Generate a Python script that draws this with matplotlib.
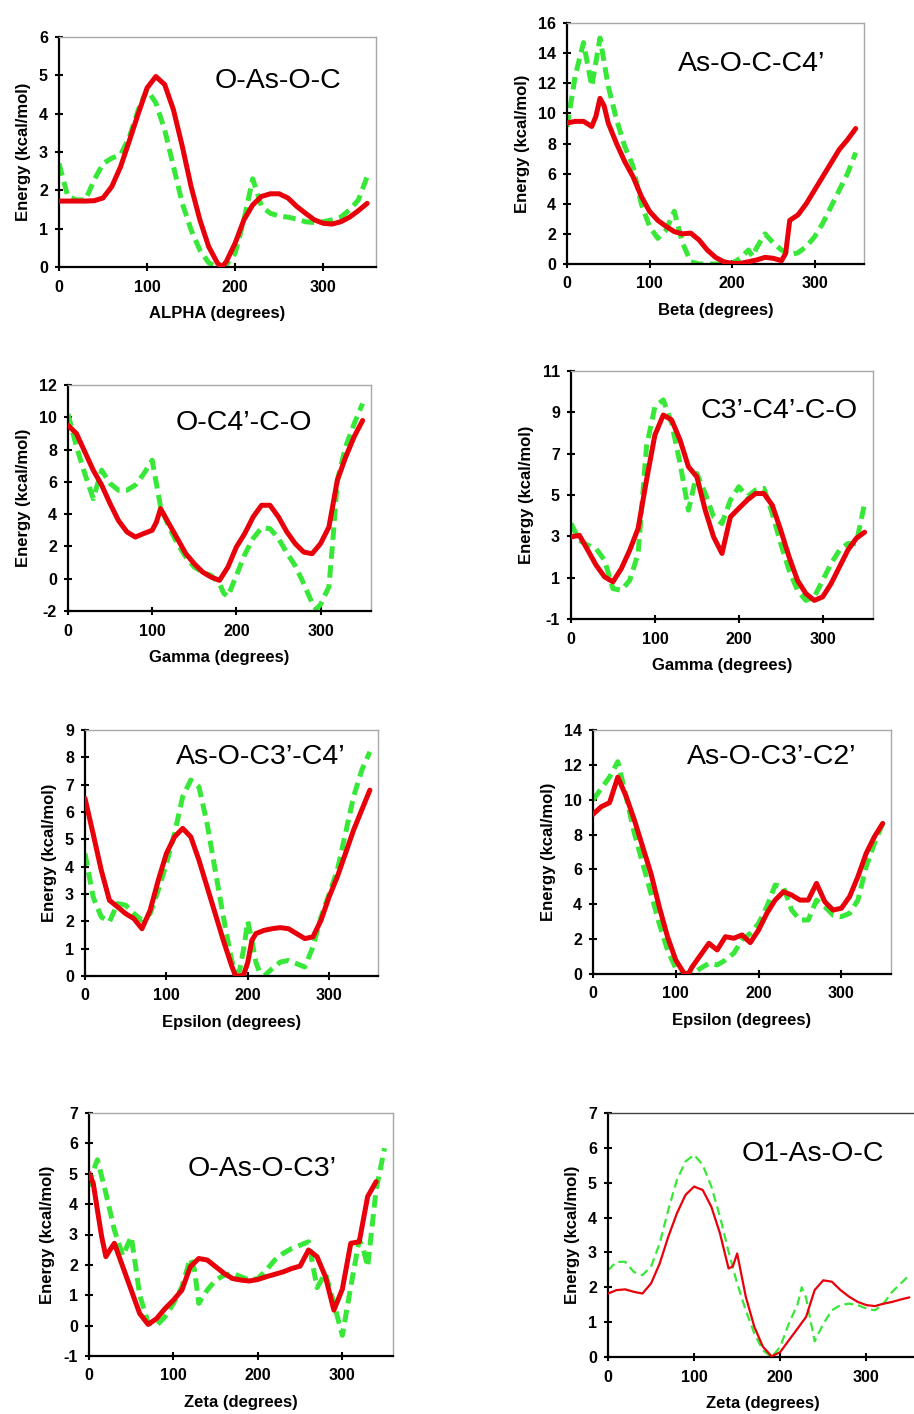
import matplotlib
matplotlib.use('Agg')
import matplotlib.pyplot as plt

plt.rcParams['font.family'] = ['Liberation Sans', 'DejaVu Sans']
plt.rcParams['axes.unicode_minus'] = False

# ---- data (energy in kcal/mol vs torsion angle in degrees) ----
# panel 1: O-As-O-C
alpha_red_x = [0, 10, 20, 30, 40, 50, 60, 70, 80, 90, 100, 110, 120, 130, 140, 150, 160, 170, 180, 185,
               190, 200, 210, 220, 230, 240, 250, 260, 270, 280, 290, 300, 310, 320, 330, 340, 350]
alpha_red_y = [1.72, 1.72, 1.72, 1.72, 1.73, 1.8, 2.1, 2.62, 3.3, 4.0, 4.67, 4.97, 4.76, 4.1, 3.15, 2.1, 1.23, 0.53, 0.1, 0.0,
               0.14, 0.62, 1.23, 1.62, 1.84, 1.91, 1.91, 1.8, 1.58, 1.4, 1.23, 1.14, 1.12, 1.18, 1.3, 1.47, 1.66]
alpha_grn_x = [0, 10, 20, 30, 40, 50, 60, 70, 80, 90, 100, 110, 120, 130, 140, 150, 160, 170, 180,
               190, 200, 210, 220, 230, 240, 250, 260, 270, 280, 290, 300, 310, 320, 330, 340, 350]
alpha_grn_y = [2.7, 1.84, 1.75, 1.75, 2.27, 2.7, 2.84, 2.93, 3.4, 4.1, 4.63, 4.28, 3.58, 2.62, 1.66, 0.97, 0.44, 0.11, 0.0,
               0.05, 0.36, 1.23, 2.3, 1.58, 1.4, 1.33, 1.3, 1.25, 1.18, 1.16, 1.18, 1.23, 1.3, 1.49, 1.75, 2.36]

# panel 2: As-O-C-C4'
beta_red_x = [0, 10, 20, 30, 35, 40, 45, 50, 60, 70, 80, 90, 100, 110, 120, 130, 140, 150, 160, 170, 180,
              190, 200, 210, 220, 230, 240, 250, 260, 265, 270, 280, 290, 300, 310, 320, 330, 340, 350]
beta_red_y = [9.36, 9.47, 9.47, 9.13, 9.8, 11.0, 10.5, 9.36, 8.0, 6.8, 5.8, 4.5, 3.5, 2.9, 2.5, 2.15, 2.0, 2.05, 1.6, 0.93, 0.44,
              0.15, 0.04, 0.04, 0.15, 0.27, 0.44, 0.38, 0.22, 0.7, 2.9, 3.26, 4.0, 4.9, 5.8, 6.7, 7.6, 8.25, 9.0]
beta_grn_x = [0, 10, 20, 30, 40, 50, 60, 70, 80, 90, 100, 110, 120, 130, 140, 150, 160, 170, 180,
              190, 200, 210, 220, 225, 230, 240, 250, 260, 270, 280, 290, 300, 310, 320, 330, 340, 350]
beta_grn_y = [9.1, 12.5, 14.7, 11.8, 15.0, 11.8, 9.6, 7.8, 6.5, 4.0, 2.5, 1.7, 2.25, 3.5, 1.4, 0.15, 0.0, 0.0, 0.0,
              0.0, 0.04, 0.38, 0.93, 0.5, 1.1, 2.0, 1.4, 0.93, 0.6, 0.75, 1.15, 1.8, 2.7, 3.8, 4.9, 6.0, 7.4]

# panel 3: O-C4'-C-O
gam1_red_x = [0, 10, 20, 30, 40, 50, 60, 70, 80, 90, 100, 105, 110, 120, 130, 140, 150, 160, 170, 180,
              190, 200, 210, 220, 230, 240, 250, 260, 270, 280, 290, 300, 310, 315, 320, 330, 340, 350]
gam1_red_y = [9.5, 9.0, 7.86, 6.72, 5.8, 4.65, 3.6, 2.9, 2.58, 2.8, 3.0, 3.5, 4.34, 3.4, 2.48, 1.55, 0.93, 0.41, 0.1, -0.1,
              0.72, 1.96, 2.8, 3.83, 4.55, 4.55, 3.83, 2.9, 2.17, 1.65, 1.55, 2.17, 3.2, 4.65, 6.1, 7.55, 8.8, 9.8]
gam1_grn_x = [0, 10, 20, 30, 40, 50, 60, 70, 80, 90, 100, 110, 120, 130, 140, 150, 160, 170, 180, 185,
              190, 200, 210, 220, 230, 240, 250, 260, 270, 280, 290, 295, 300, 310, 315, 320, 330, 340, 350]
gam1_grn_y = [10.2, 8.2, 6.5, 4.96, 6.72, 5.9, 5.48, 5.48, 5.8, 6.5, 7.34, 4.45, 3.2, 2.17, 1.34, 0.72, 0.41, 0.2, -0.3, -0.9,
              -1.1, 0.2, 1.5, 2.5, 3.15, 3.1, 2.5, 1.6, 0.8, -0.3, -1.5, -1.9, -1.6, -0.5, 2.58, 6.1, 8.2, 9.6, 10.85]

# panel 4: C3'-C4'-C-O
gam2_x = [0, 10, 20, 30, 40, 50, 60, 70, 80, 90, 100, 110, 120, 130, 140, 150, 160, 170, 180,
          190, 200, 210, 220, 230, 240, 250, 260, 270, 280, 290, 300, 310, 320, 330, 340, 350]
gam2_red_y = [2.97, 3.05, 2.33, 1.6, 1.04, 0.8, 1.44, 2.33, 3.38, 5.72, 7.9, 8.87, 8.63, 7.66, 6.37, 5.88, 4.27, 2.97, 2.17,
              3.94, 4.35, 4.75, 5.07, 5.07, 4.5, 3.3, 2.0, 0.87, 0.23, -0.1, 0.07, 0.71, 1.52, 2.33, 2.9, 3.2]
gam2_grn_y = [3.62, 2.81, 2.57, 2.4, 1.84, 0.47, 0.39, 0.87, 2.17, 7.34, 9.27, 9.6, 8.47, 6.53, 4.27, 6.04, 5.07, 3.94, 3.62,
              4.75, 5.4, 4.91, 5.24, 5.32, 4.1, 2.65, 1.36, 0.39, -0.1, 0.07, 0.87, 1.68, 2.33, 2.65, 2.65, 4.59]

# panel 5: As-O-C3'-C4'
eps1_red_x = [0, 10, 20, 30, 40, 50, 60, 70, 80, 90, 100, 110, 120, 130, 140, 150, 160, 170, 180, 185,
              190, 195, 200, 205, 210, 220, 230, 240, 250, 260, 270, 280, 290, 300, 310, 320, 330, 340, 350]
eps1_red_y = [6.5, 5.2, 3.87, 2.77, 2.53, 2.28, 2.1, 1.73, 2.4, 3.5, 4.48, 5.09, 5.4, 5.09, 4.24, 3.26, 2.28, 1.3, 0.39, 0.0,
              0.0, 0.05, 0.5, 1.3, 1.55, 1.67, 1.73, 1.77, 1.73, 1.55, 1.37, 1.43, 2.04, 2.9, 3.63, 4.48, 5.34, 6.07, 6.8]
eps1_grn_x = [0, 10, 20, 30, 40, 50, 60, 70, 80, 90, 100, 110, 120, 130, 140, 150, 160, 170, 180, 185,
              190, 195, 200, 205, 210, 215, 220, 230, 240, 250, 260, 270, 280, 290, 300, 310, 320, 330, 340, 350]
eps1_grn_y = [4.48, 2.89, 2.16, 1.98, 2.65, 2.59, 2.28, 2.04, 2.28, 3.14, 4.11, 5.21, 6.56, 7.17, 6.92, 5.58, 3.87, 2.16, 0.6, 0.1,
              0.2, 1.0, 2.0, 1.3, 0.5, 0.1, 0.0, 0.27, 0.51, 0.57, 0.45, 0.33, 1.06, 2.16, 3.0, 3.87, 5.21, 6.56, 7.53, 8.2]

# panel 6: As-O-C3'-C2'
eps2_red_x = [0, 10, 20, 30, 40, 50, 60, 70, 80, 90, 100, 110, 115, 120, 130, 140, 150, 160, 170, 180,
              190, 200, 210, 220, 230, 240, 250, 260, 270, 280, 290, 300, 310, 320, 330, 340, 350]
eps2_red_y = [9.16, 9.6, 9.83, 11.3, 10.2, 8.83, 7.3, 5.77, 3.86, 2.14, 0.8, 0.04, 0.0, 0.42, 1.09, 1.76, 1.38, 2.14, 2.05, 2.24,
              1.8, 2.52, 3.48, 4.24, 4.72, 4.53, 4.24, 4.24, 5.2, 4.15, 3.67, 3.77, 4.44, 5.58, 6.92, 7.88, 8.64]
eps2_grn_x = [0, 10, 20, 30, 40, 50, 60, 70, 80, 90, 100, 110, 120, 130, 140, 150, 160, 170, 180,
              190, 200, 210, 220, 230, 240, 250, 260, 270, 280, 290, 300, 310, 320, 330, 340, 350]
eps2_grn_y = [9.98, 10.65, 11.3, 12.18, 10.17, 8.07, 6.35, 4.63, 2.9, 1.38, 0.33, 0.04, 0.0, 0.33, 0.61, 0.52, 0.8, 1.19, 1.95,
              2.33, 2.9, 3.86, 5.1, 5.0, 3.67, 3.1, 3.1, 4.24, 3.86, 3.38, 3.29, 3.48, 4.24, 6.16, 7.5, 8.64]

# panel 7: O-As-O-C3'
zeta1_red_x = [0, 5, 10, 15, 20, 25, 30, 40, 50, 60, 70, 80, 90, 100, 110, 120, 130, 140, 150, 160, 170, 180,
               190, 200, 210, 220, 230, 240, 250, 260, 270, 280, 290, 300, 310, 320, 330, 340]
zeta1_red_y = [5.02, 4.69, 3.8, 2.93, 2.27, 2.5, 2.71, 1.94, 1.17, 0.4, 0.04, 0.23, 0.56, 0.84, 1.17, 1.94, 2.21, 2.16, 1.94, 1.72, 1.55, 1.5,
               1.47, 1.52, 1.61, 1.69, 1.77, 1.88, 1.96, 2.49, 2.27, 1.61, 0.51, 1.2, 2.71, 2.76, 4.25, 4.74]
zeta1_grn_x = [0, 5, 10, 20, 30, 40, 50, 55, 60, 70, 80, 90, 100, 110, 120, 125, 130, 140, 150, 160, 170, 180,
               190, 200, 210, 220, 230, 240, 250, 260, 270, 280, 290, 300, 310, 320, 325, 330, 340, 350]
zeta1_grn_y = [4.58, 5.1, 5.46, 4.36, 3.15, 2.3, 2.93, 2.0, 1.0, 0.1, 0.0, 0.29, 0.73, 1.28, 2.21, 1.83, 0.73, 1.17, 1.5, 1.66, 1.72, 1.61,
               1.5, 1.55, 1.83, 2.16, 2.38, 2.54, 2.65, 2.76, 1.25, 1.72, 0.73, -0.32, 1.28, 2.82, 2.5, 1.94, 4.47, 5.84]

# panel 8: O1-As-O-C
zeta2_red_x = [0, 10, 20, 30, 40, 50, 60, 70, 80, 90, 100, 110, 120, 130, 140, 145, 150, 160, 170, 180,
               190, 200, 210, 220, 230, 240, 250, 260, 270, 280, 290, 300, 310, 320, 330, 340, 350]
zeta2_red_y = [1.82, 1.92, 1.94, 1.87, 1.82, 2.11, 2.68, 3.45, 4.12, 4.65, 4.89, 4.79, 4.31, 3.55, 2.54, 2.6, 2.97, 1.73, 0.86, 0.29,
               0.02, 0.14, 0.48, 0.81, 1.15, 1.92, 2.2, 2.16, 1.92, 1.73, 1.58, 1.49, 1.46, 1.53, 1.58, 1.65, 1.71]
zeta2_grn_x = [0, 10, 20, 30, 40, 50, 60, 70, 80, 90, 100, 110, 120, 130, 140, 150, 160, 170, 180,
               190, 200, 210, 220, 225, 230, 240, 250, 260, 270, 280, 290, 300, 310, 320, 330, 340, 350]
zeta2_grn_y = [2.49, 2.73, 2.73, 2.44, 2.35, 2.59, 3.26, 4.22, 5.08, 5.61, 5.8, 5.51, 4.89, 4.03, 3.02, 2.11, 1.34, 0.67, 0.19,
               0.0, 0.29, 0.96, 1.5, 2.0, 1.7, 0.45, 0.95, 1.34, 1.49, 1.53, 1.49, 1.39, 1.34, 1.53, 1.87, 2.11, 2.35]

RED = '#e8000a'
GREEN = '#38e838'
W, H = 914, 1414

fig = plt.figure(figsize=(W / 100, H / 100), dpi=100)


def panel(px, title, tpos, xlabel, ylim, yticks, red, green, thin=False):
    left, right, top, bottom = px
    ax = fig.add_axes([left / W, 1 - bottom / H, (right - left) / W, (bottom - top) / H])
    lw = 1.6 if thin else 3.6
    dash = (0, (4, 2.2)) if thin else (0, (2.5, 1.3))
    ax.plot(red[0], red[1], color=RED, lw=lw, solid_joinstyle='round', solid_capstyle='round', zorder=3)
    ax.plot(green[0], green[1], color=GREEN, lw=lw, linestyle=dash, zorder=2)
    ax.set_xlim(0, 360)
    ax.set_ylim(*ylim)
    ax.set_xticks([0, 100, 200, 300])
    ax.set_yticks(yticks)
    for s in ('left', 'bottom'):
        ax.spines[s].set_color('black')
        ax.spines[s].set_linewidth(1.6)
    for s in ('top', 'right'):
        ax.spines[s].set_color('#404040' if thin else '#a8a8a8')
        ax.spines[s].set_linewidth(1.0)
    ax.tick_params(direction='inout', length=6, width=1.5, labelsize=11.5)
    ax.tick_params(axis='x', pad=6)
    ax.tick_params(axis='y', pad=5)
    for lab in ax.get_xticklabels() + ax.get_yticklabels():
        lab.set_fontweight('bold')
    ax.set_xlabel(xlabel, fontsize=12, fontweight='bold', labelpad=8)
    ax.set_ylabel('Energy (kcal/mol)', fontsize=12, fontweight='bold', labelpad=6)
    ax.text(tpos[0], tpos[1], title, transform=ax.transAxes, fontsize=20.5,
            ha='center', va='center')
    return ax


panel((59, 376, 37, 267), 'O-As-O-C', (0.69, 0.81), 'ALPHA (degrees)',
      (0, 6), range(0, 7), (alpha_red_x, alpha_red_y), (alpha_grn_x, alpha_grn_y))
panel((567, 864, 23, 264), 'As-O-C-C4\u2019', (0.62, 0.83), 'Beta (degrees)',
      (0, 16), range(0, 17, 2), (beta_red_x, beta_red_y), (beta_grn_x, beta_grn_y))
panel((68, 371, 385, 611), 'O-C4\u2019-C-O', (0.58, 0.83), 'Gamma (degrees)',
      (-2, 12), range(-2, 13, 2), (gam1_red_x, gam1_red_y), (gam1_grn_x, gam1_grn_y))
panel((571, 873, 371, 619), 'C3\u2019-C4\u2019-C-O', (0.69, 0.84), 'Gamma (degrees)',
      (-1, 11), range(-1, 12, 2), (gam2_x, gam2_red_y), (gam2_x, gam2_grn_y))
panel((85, 378, 730, 976), 'As-O-C3\u2019-C4\u2019', (0.60, 0.89), 'Epsilon (degrees)',
      (0, 9), range(0, 10), (eps1_red_x, eps1_red_y), (eps1_grn_x, eps1_grn_y))
panel((593, 891, 730, 974), 'As-O-C3\u2019-C2\u2019', (0.60, 0.89), 'Epsilon (degrees)',
      (0, 14), range(0, 15, 2), (eps2_red_x, eps2_red_y), (eps2_grn_x, eps2_grn_y))
panel((89, 393, 1113, 1356), 'O-As-O-C3\u2019', (0.57, 0.77), 'Zeta (degrees)',
      (-1, 7), range(-1, 8), (zeta1_red_x, zeta1_red_y), (zeta1_grn_x, zeta1_grn_y))
panel((608, 918, 1113, 1357), 'O1-As-O-C', (0.66, 0.83), 'Zeta (degrees)',
      (0, 7), range(0, 8), (zeta2_red_x, zeta2_red_y), (zeta2_grn_x, zeta2_grn_y), thin=True)

fig.savefig('out.png', dpi=100)
